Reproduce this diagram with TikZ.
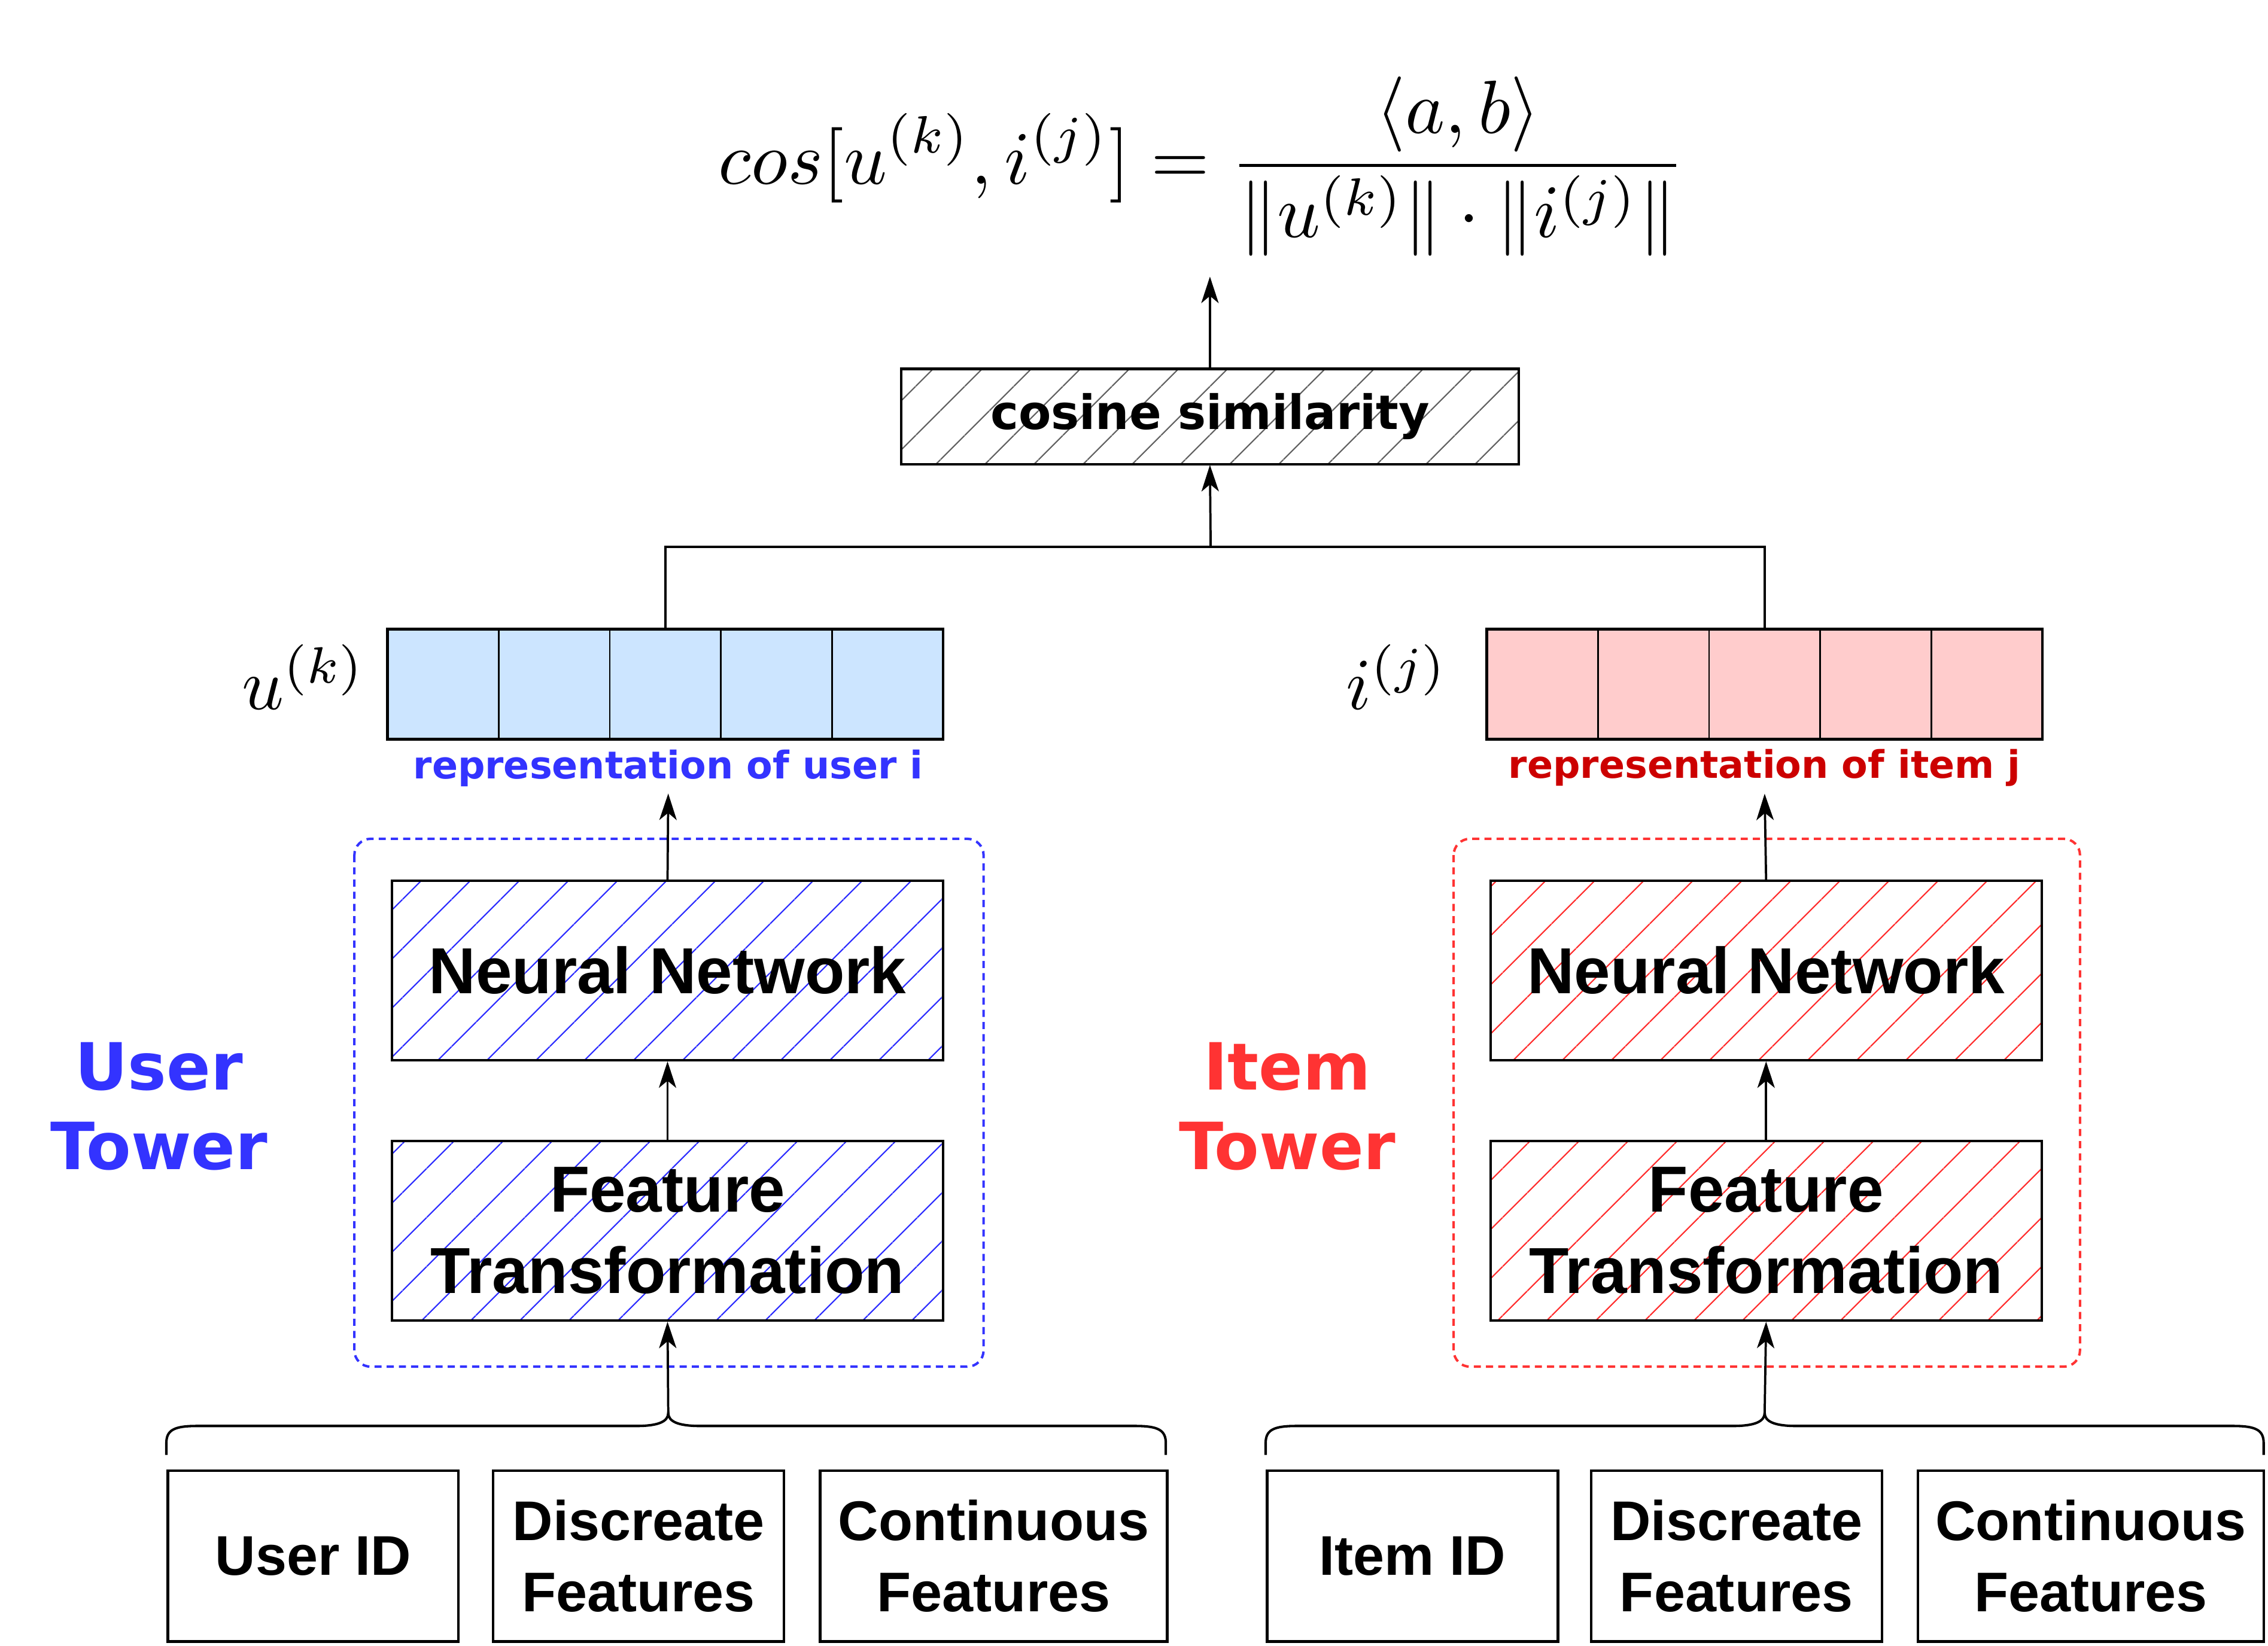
\documentclass[tikz,border=0pt]{standalone}
\usepackage{fontspec}
\usepackage{graphicx}
\usetikzlibrary{arrows.meta,patterns.meta}
\newfontfamily\helvfont{Liberation Sans}
\newfontfamily\verdfont{DejaVu Sans}
\definecolor{userblue}{HTML}{3333FF}
\definecolor{itemred}{HTML}{FF3333}
\definecolor{itemdark}{HTML}{CC0000}
\definecolor{userfill}{HTML}{CCE5FF}
\definecolor{itemfill}{HTML}{FFCCCC}
\tikzset{
  layerbox/.style={draw, line width=1.3pt, minimum width=9.525cm, minimum height=3.1cm, align=center,
    font=\helvfont\bfseries\fontsize{32}{40}\selectfont},
  hatch/.style={pattern={Lines[angle=45,distance=17pt,line width=0.7pt]}, pattern color=#1},
  featbox/.style={draw, line width=1.3pt, minimum width=5.025cm, minimum height=2.95cm, align=center,
    font=\helvfont\bfseries\fontsize{27.5}{35}\selectfont},
  vecbox/.style={draw, line width=1.4pt, minimum width=9.6cm, minimum height=1.9cm, inner sep=0pt},
  towerbox/.style={draw=#1, line width=1.2pt, dash pattern=on 3.5pt off 2.5pt, rounded corners=8pt},
  towerlabel/.style={align=center, font=\verdfont\bfseries\fontsize{32}{39}\selectfont},
  replabel/.style={font=\verdfont\bfseries\fontsize{18.7}{22}\selectfont},
  link/.style={line width=1.1pt, -{Stealth[length=13pt,width=8.5pt,inset=3.5pt]}},
  plain/.style={line width=1.1pt},
  bracepath/.style={line width=1.2pt}
}
\begin{document}
\begin{tikzpicture}[x=0.025cm, y=-0.025cm]
\useasboundingbox (0,0) rectangle (1568,1138);
% score and similarity
\node [inner sep=10pt] (sim) at (831,115) {\resizebox{16.7cm}{!}{$\displaystyle cos[u^{(k)}, i^{(j)}] = \frac{\langle a, b \rangle}{\|u^{(k)}\| \cdot \|i^{(j)}\|}$}};
\node [layerbox, hatch=black!60, minimum width=10.675cm, minimum height=1.65cm,
  font=\verdfont\bfseries\fontsize{23.3}{28}\selectfont] (cos) at (836.5,288) {cosine similarity};
\coordinate (join) at (837,378);
% representations
\node [vecbox, fill=userfill] (uvec) at (460,473) {};
\node [vecbox, fill=itemfill] (ivec) at (1220,473) {};
\foreach \k in {1,...,4} {
  \draw [line width=0.8pt] (268+\k*76.8,435) -- (268+\k*76.8,511);
  \draw [line width=0.8pt] (1028+\k*76.8,435) -- (1028+\k*76.8,511);
}
\node (ulab) at (210,468) {\scalebox{3.6}{$u^{(k)}$}};
\node (ilab) at (966,468) {\scalebox{3.6}{$i^{(j)}$}};
\node [replabel, text=userblue] (urep) at (462,531) {representation of user i};
\node [replabel, text=itemdark] (irep) at (1220,531) {representation of item j};
% towers
\draw [towerbox=userblue] (245,580) rectangle (680,945);
\draw [towerbox=itemred] (1005,580) rectangle (1438,945);
\node [layerbox, hatch=userblue] (unn) at (461.5,671) {Neural Network};
\node [layerbox, hatch=userblue] (uft) at (461.5,851) {Feature\\Transformation};
\node [layerbox, hatch=itemred] (inn) at (1221,671) {Neural Network};
\node [layerbox, hatch=itemred] (ift) at (1221,851) {Feature\\Transformation};
\node [towerlabel, text=userblue] (utower) at (110,765) {User\\Tower};
\node [towerlabel, text=itemred] (itower) at (890,765) {Item\\Tower};
% inputs
\node [featbox] (uid) at (216.5,1076) {User ID};
\node [featbox] (udisc) at (441.5,1076) {Discreate\\Features};
\node [featbox, minimum width=6cm] (ucont) at (687,1076) {Continuous\\Features};
\node [featbox] (iid) at (976.5,1076) {Item ID};
\node [featbox] (idisc) at (1200.5,1076) {Discreate\\Features};
\node [featbox, minimum width=5.975cm] (icont) at (1445.5,1076) {Continuous\\Features};
% braces over the inputs
\coordinate (ubrace) at (462,977);
\coordinate (ibrace) at (1220,977);
\draw [bracepath] (115,1006) -- (115,998) .. controls (115,989) and (120,986) .. (136,986) -- (440,986)
  .. controls (455,986) and (462,983) .. (ubrace) .. controls (462,983) and (469,986) .. (484,986)
  -- (785,986) .. controls (801,986) and (806,989) .. (806,998) -- (806,1006);
\draw [bracepath] (875,1006) -- (875,998) .. controls (875,989) and (880,986) .. (896,986) -- (1198,986)
  .. controls (1213,986) and (1220,983) .. (ibrace) .. controls (1220,983) and (1227,986) .. (1242,986)
  -- (1544,986) .. controls (1560,986) and (1565,989) .. (1565,998) -- (1565,1006);
% connectors
\draw [link] (ubrace) -- (uft.south);
\draw [link] (ibrace) -- (ift.south);
\draw [link] (uft.north) -- (unn.south);
\draw [link] (ift.north) -- (inn.south);
\draw [link] (unn.north) -- (urep.south);
\draw [link] (inn.north) -- (irep.south);
\draw [plain] (uvec.north) |- (join) -| (ivec.north);
\draw [link] (join) -- (cos.south);
\draw [link] (cos.north) -- (cos.north |- sim.south);
\end{tikzpicture}
\end{document}
